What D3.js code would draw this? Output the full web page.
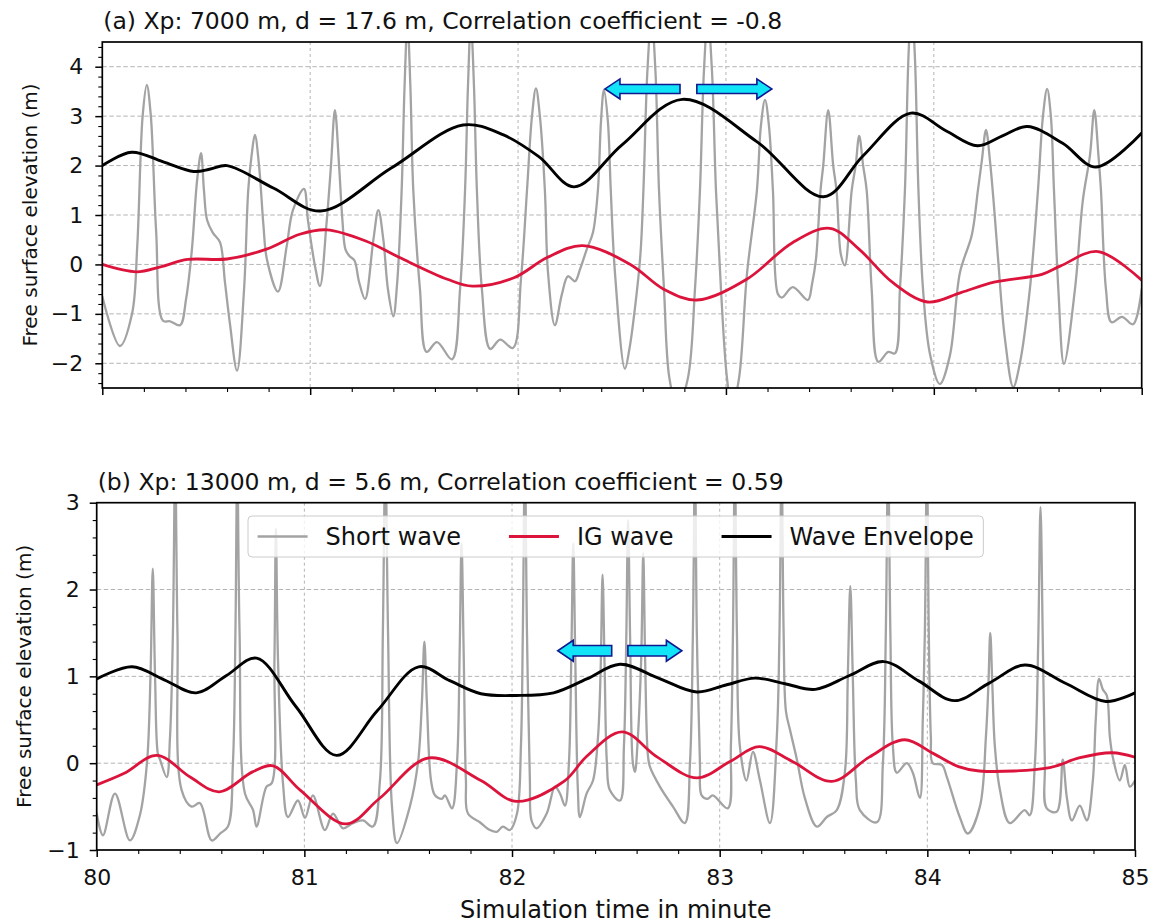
<!DOCTYPE html>
<html>
<head>
<meta charset="utf-8">
<script src="https://cdn.jsdelivr.net/npm/d3@7"></script>
<style>
  body { margin: 0; background: #ffffff; }
  svg { display: block; }
  text { font-family: "DejaVu Sans", sans-serif; fill: #111111; }
</style>
</head>
<body>
<svg id="chart" width="1164" height="923"></svg>
<script>
// ---- axes ----
const timeDomain = [80, 85];
const timeTicks = [80, 81, 82, 83, 84, 85];
const yTicksA = [-2, -1, 0, 1, 2, 3, 4];
const yTicksB = [-1, 0, 1, 2, 3];

const titleA = "(a) Xp: 7000 m, d = 17.6 m, Correlation coefficient = -0.8";
const titleB = "(b) Xp: 13000 m, d = 5.6 m, Correlation coefficient = 0.59";
const xLabel = "Simulation time in minute";
const yLabel = "Free surface elevation (m)";

const seriesNames = ["Short wave", "IG wave", "Wave Envelope"];
const seriesColors = ["#a3a3a3", "#dc143c", "#000000"];

// ---- panel (a): [time (min), elevation (m)] ----
const shortWaveA = [
  [80.000,-0.65],[80.085,-1.65],[80.143,-1.00],[80.168,0.36],[80.194,3.00],[80.214,3.63],[80.233,3.03],[80.259,0.67],
  [80.292,-1.14],[80.326,-1.15],[80.374,-1.23],[80.403,-0.70],[80.431,0.30],[80.456,1.70],[80.475,2.25],[80.489,1.50],
  [80.504,0.90],[80.532,0.64],[80.566,0.45],[80.590,-0.36],[80.614,-1.20],[80.648,-2.15],[80.682,-0.50],[80.702,1.50],
  [80.718,2.20],[80.734,2.62],[80.754,2.00],[80.775,0.80],[80.792,0.10],[80.845,-0.55],[80.887,0.37],[80.917,1.10],
  [80.970,1.53],[80.989,0.90],[81.023,-0.03],[81.047,-0.44],[81.079,0.85],[81.100,2.00],[81.119,3.12],[81.139,2.00],
  [81.155,0.90],[81.170,0.30],[81.189,0.17],[81.213,0.08],[81.235,-0.35],[81.264,-0.70],[81.304,0.50],[81.328,1.10],
  [81.352,0.50],[81.374,-0.50],[81.400,-1.05],[81.418,-0.40],[81.440,1.50],[81.454,3.60],[81.468,4.90],[81.482,3.60],
  [81.496,1.50],[81.528,-0.50],[81.560,-1.77],[81.610,-1.57],[81.682,-1.92],[81.721,-0.50],[81.745,1.50],[81.759,3.60],
  [81.773,4.90],[81.788,3.60],[81.802,1.50],[81.826,-0.50],[81.866,-1.71],[81.914,-1.52],[81.975,-1.69],[82.014,-0.30],
  [82.043,1.50],[82.067,3.00],[82.086,3.56],[82.105,3.00],[82.129,1.50],[82.144,-0.16],[82.177,-1.23],[82.211,-0.60],
  [82.240,-0.24],[82.274,-0.34],[82.298,-0.10],[82.330,0.30],[82.360,0.64],[82.384,1.50],[82.399,2.90],[82.413,3.53],
  [82.432,2.90],[82.446,1.50],[82.466,-0.16],[82.514,-2.11],[82.536,-1.70],[82.554,-1.17],[82.588,0.17],[82.603,1.50],
  [82.622,3.90],[82.642,5.00],[82.661,3.90],[82.678,1.50],[82.702,-0.50],[82.728,-2.30],[82.767,-2.90],[82.817,-2.30],
  [82.851,-0.50],[82.875,1.50],[82.894,3.90],[82.913,5.00],[82.933,3.90],[82.952,1.50],[82.976,-0.50],[83.005,-2.30],
  [83.029,-2.90],[83.063,-2.30],[83.101,-0.20],[83.149,1.50],[83.168,2.80],[83.188,3.33],[83.207,2.80],[83.226,1.50],
  [83.250,-0.60],[83.269,-0.67],[83.322,-0.46],[83.394,-0.72],[83.414,-0.40],[83.433,0.10],[83.455,1.50],[83.468,2.00],
  [83.492,3.12],[83.516,2.00],[83.532,1.50],[83.553,0.20],[83.572,-0.02],[83.605,1.50],[83.624,2.00],[83.641,2.60],
  [83.660,2.00],[83.677,1.50],[83.701,-0.50],[83.733,-1.97],[83.781,-1.77],[83.813,-1.80],[83.837,-0.50],[83.861,1.50],
  [83.878,4.20],[83.893,5.30],[83.909,4.20],[83.926,1.50],[83.948,-0.50],[83.981,-1.80],[84.029,-2.42],[84.077,-1.85],
  [84.126,-0.16],[84.183,0.60],[84.212,1.50],[84.231,2.10],[84.251,2.72],[84.270,2.10],[84.289,1.20],[84.308,0.17],
  [84.342,-1.50],[84.382,-2.48],[84.414,-2.00],[84.462,-0.50],[84.501,1.50],[84.525,3.00],[84.545,3.55],[84.563,3.00],
  [84.578,1.50],[84.599,-0.50],[84.626,-2.01],[84.679,-0.50],[84.717,1.30],[84.751,2.20],[84.772,3.12],[84.792,2.20],
  [84.804,1.50],[84.828,-0.50],[84.855,-1.17],[84.905,-1.06],[84.958,-1.21],[85.000,-0.50]
];
const igWaveA = [
  [80.00,0.00],[80.165,-0.15],[80.28,-0.05],[80.41,0.10],[80.60,0.11],[80.79,0.31],[80.95,0.61],[81.08,0.70],
  [81.27,0.47],[81.43,0.14],[81.66,-0.30],[81.78,-0.44],[81.98,-0.27],[82.14,0.14],[82.31,0.38],[82.54,0.00],
  [82.70,-0.50],[82.86,-0.72],[83.10,-0.30],[83.32,0.44],[83.50,0.73],[83.64,0.31],[83.80,-0.36],[83.97,-0.76],
  [84.13,-0.57],[84.29,-0.36],[84.52,-0.20],[84.61,-0.03],[84.79,0.26],[85.00,-0.32]
];
const envelopeA = [
  [80.00,2.00],[80.14,2.27],[80.29,2.08],[80.44,1.88],[80.52,1.93],[80.60,2.00],[80.825,1.54],[81.05,1.08],
  [81.39,1.95],[81.735,2.82],[81.93,2.62],[82.10,2.18],[82.27,1.57],[82.50,2.42],[82.79,3.34],[83.15,2.48],
  [83.47,1.37],[83.66,2.20],[83.89,3.06],[84.06,2.70],[84.21,2.40],[84.33,2.60],[84.45,2.79],[84.62,2.45],
  [84.78,1.97],[85.00,2.66]
];

// ---- panel (b): [time (min), elevation (m)] ----
const shortWaveB = [
  [80.000,-0.58],[80.030,-0.83],[80.088,-0.35],[80.160,-0.89],[80.208,-0.60],[80.242,0.00],[80.259,1.00],[80.270,2.24],
  [80.281,1.00],[80.295,0.10],[80.305,0.04],[80.337,-0.16],[80.353,0.30],[80.367,1.50],[80.378,3.50],[80.389,1.50],
  [80.409,-0.31],[80.457,-0.50],[80.497,-0.46],[80.554,-0.89],[80.594,-0.81],[80.632,-0.73],[80.656,0.00],[80.668,1.50],
  [80.677,3.50],[80.688,1.50],[80.714,-0.35],[80.753,-0.54],[80.770,-0.73],[80.818,-0.27],[80.843,-0.23],[80.856,1.20],
  [80.863,2.70],[80.873,1.20],[80.897,-0.23],[80.921,-0.62],[80.969,-0.43],[81.003,-0.63],[81.041,-0.37],[81.099,-0.77],
  [81.138,-0.58],[81.186,-0.75],[81.234,-0.69],[81.282,-0.66],[81.330,-0.73],[81.364,-0.20],[81.378,1.50],[81.390,3.50],
  [81.403,1.50],[81.422,-0.50],[81.446,-0.92],[81.508,-0.50],[81.547,0.00],[81.566,0.70],[81.578,1.40],[81.590,0.70],
  [81.610,-0.20],[81.629,-0.37],[81.662,-0.41],[81.677,-0.37],[81.711,-0.52],[81.735,0.00],[81.748,1.30],[81.757,2.53],
  [81.767,1.30],[81.778,-0.20],[81.788,-0.58],[81.845,-0.68],[81.894,-0.77],[81.927,-0.79],[81.956,-0.73],[81.990,-0.77],
  [82.024,-0.58],[82.043,0.20],[82.052,1.50],[82.062,3.50],[82.072,1.50],[82.086,-0.20],[82.094,-0.66],[82.118,-0.75],
  [82.167,-0.58],[82.207,-0.27],[82.231,-0.35],[82.255,-0.49],[82.274,0.00],[82.286,1.30],[82.295,2.53],[82.304,1.30],
  [82.317,-0.30],[82.327,-0.62],[82.359,-0.35],[82.390,-0.20],[82.414,0.30],[82.427,1.10],[82.436,2.17],[82.446,1.10],
  [82.457,0.00],[82.471,-0.31],[82.520,-0.43],[82.539,0.20],[82.550,1.40],[82.559,2.80],[82.569,1.40],[82.582,0.00],
  [82.592,-0.10],[82.606,0.30],[82.622,1.20],[82.632,2.42],[82.641,1.20],[82.654,0.10],[82.664,-0.04],[82.712,-0.27],
  [82.775,-0.50],[82.832,-0.69],[82.857,0.00],[82.871,1.50],[82.881,3.50],[82.890,1.50],[82.905,0.00],[82.913,-0.37],
  [82.943,-0.41],[82.967,-0.37],[83.039,-0.52],[83.054,0.20],[83.064,1.50],[83.073,3.50],[83.083,1.50],[83.097,0.20],
  [83.129,-0.20],[83.160,0.13],[83.194,-0.20],[83.242,-0.69],[83.275,0.30],[83.288,1.50],[83.298,3.50],[83.308,1.50],
  [83.319,0.60],[83.338,0.39],[83.372,0.04],[83.410,-0.40],[83.468,-0.73],[83.516,-0.62],[83.564,-0.54],[83.603,-0.10],
  [83.617,1.00],[83.629,2.04],[83.641,1.00],[83.656,-0.20],[83.675,-0.54],[83.757,-0.68],[83.786,0.00],[83.800,1.50],
  [83.811,3.50],[83.822,1.50],[83.834,0.20],[83.853,-0.11],[83.901,0.00],[83.930,-0.11],[83.964,-0.40],[83.978,0.50],
  [83.988,1.50],[83.998,3.50],[84.007,1.50],[84.017,0.30],[84.026,0.00],[84.070,-0.02],[84.094,-0.16],[84.156,-0.62],
  [84.195,-0.81],[84.253,-0.50],[84.282,0.30],[84.294,0.90],[84.303,1.50],[84.313,0.90],[84.325,0.20],[84.349,-0.30],
  [84.397,-0.69],[84.469,-0.54],[84.493,-0.60],[84.518,0.00],[84.534,1.40],[84.545,2.95],[84.556,1.40],[84.566,0.00],
  [84.575,-0.52],[84.623,-0.56],[84.652,0.04],[84.672,-0.40],[84.696,-0.66],[84.734,-0.49],[84.768,-0.66],[84.797,-0.20],
  [84.811,0.50],[84.827,0.97],[84.845,0.85],[84.864,0.78],[84.879,0.30],[84.893,0.07],[84.927,-0.20],[84.951,-0.02],
  [84.975,-0.27],[85.000,-0.20]
];
const igWaveB = [
  [80.00,-0.25],[80.13,-0.12],[80.29,0.09],[80.45,-0.16],[80.59,-0.33],[80.75,-0.10],[80.85,-0.03],[80.98,-0.31],
  [81.20,-0.70],[81.36,-0.41],[81.60,0.06],[81.85,-0.20],[82.02,-0.44],[82.25,-0.21],[82.36,0.08],[82.53,0.36],
  [82.70,0.07],[82.89,-0.17],[83.05,0.02],[83.19,0.19],[83.35,0.02],[83.54,-0.21],[83.72,0.07],[83.89,0.27],
  [84.03,0.11],[84.15,-0.04],[84.25,-0.09],[84.59,-0.05],[84.73,0.06],[84.89,0.12],[85.00,0.07]
];
const envelopeB = [
  [80.00,0.97],[80.17,1.11],[80.325,0.96],[80.48,0.81],[80.625,1.01],[80.77,1.21],[80.96,0.65],[81.155,0.09],
  [81.35,0.60],[81.55,1.11],[81.70,0.95],[81.85,0.80],[82.02,0.78],[82.20,0.81],[82.36,0.97],[82.52,1.14],
  [82.705,0.98],[82.89,0.82],[83.03,0.90],[83.17,0.98],[83.315,0.915],[83.46,0.85],[83.625,1.01],[83.79,1.17],
  [83.96,0.945],[84.13,0.72],[84.30,0.925],[84.47,1.13],[84.665,0.92],[84.86,0.71],[85.00,0.81]
];

// ---- direction arrows: tail time, tip time, elevation ----
const arrowsA = [[82.779, 82.418, 3.55], [82.860, 83.221, 3.55]];
const arrowsB = [[82.480, 82.220, 1.295], [82.558, 82.818, 1.295]];

const svg = d3.select("#chart");

const panels = [
  { title: titleA, box: { l: 102.3, r: 1141.7, t: 42, b: 388 }, yDomain: [-2.5, 4.5], yTicks: yTicksA,
    series: [shortWaveA, igWaveA, envelopeA], arrows: arrowsA, arrowSize: [15, 20, 9],
    titleY: 28.5, yLabelX: 36.5, tickLabels: false, legend: false },
  { title: titleB, box: { l: 96.7, r: 1135, t: 502.7, b: 850 }, yDomain: [-1, 3], yTicks: yTicksB,
    series: [shortWaveB, igWaveB, envelopeB], arrows: arrowsB, arrowSize: [15.5, 21, 10.5],
    titleY: 489.5, yLabelX: 30.5, tickLabels: true, legend: true }
];

const lineWidths = [2.3, 2.8, 2.9];

function minorValues(lo, hi) {
  return d3.range(Math.ceil(lo * 5 - 1e-9), Math.floor(hi * 5 + 1e-9) + 1)
    .map(k => k / 5)
    .filter(v => Math.abs(v - Math.round(v)) > 1e-6);
}

function arrowPath(x0, x1, yc, hl, hw, sw) {
  const dir = Math.sign(x1 - x0);
  const xn = x1 - dir * hl;
  return `M${x0},${yc - sw / 2}L${xn},${yc - sw / 2}L${xn},${yc - hw / 2}L${x1},${yc}` +
         `L${xn},${yc + hw / 2}L${xn},${yc + sw / 2}L${x0},${yc + sw / 2}Z`;
}

function styleAxis(sel, fontSize) {
  sel.select(".domain").remove();
  sel.selectAll(".tick line").attr("stroke", "#000").attr("stroke-width", 1.5);
  sel.selectAll(".tick text").attr("font-size", fontSize).attr("font-family", "DejaVu Sans, sans-serif").attr("fill", "#111");
}

panels.forEach((p, i) => {
  const { l, r, t, b } = p.box;
  const x = d3.scaleLinear().domain(timeDomain).range([l, r]);
  const y = d3.scaleLinear().domain(p.yDomain).range([b, t]);
  const g = svg.append("g");

  const clipId = "plot-clip-" + i;
  svg.append("clipPath").attr("id", clipId)
    .append("rect").attr("x", l).attr("y", t).attr("width", r - l).attr("height", b - t);

  // grid
  g.append("g").selectAll("line")
    .data(p.yTicks.filter(v => v > p.yDomain[0] && v < p.yDomain[1]))
    .join("line")
    .attr("x1", l).attr("x2", r).attr("y1", d => y(d)).attr("y2", d => y(d))
    .attr("stroke", "#b4b4b4").attr("stroke-width", 1).attr("stroke-dasharray", "4.5,2.5");
  g.append("g").selectAll("line")
    .data(timeTicks.filter(v => v > timeDomain[0] && v < timeDomain[1]))
    .join("line")
    .attr("x1", d => x(d)).attr("x2", d => x(d)).attr("y1", t).attr("y2", b)
    .attr("stroke", "#b4b4b4").attr("stroke-width", 1).attr("stroke-dasharray", "3,3");

  // series: short wave, IG wave, envelope
  const line = d3.line().x(d => x(d[0])).y(d => y(d[1])).curve(d3.curveCatmullRom.alpha(0.5));
  p.series.forEach((s, k) => {
    g.append("path")
      .attr("clip-path", `url(#${clipId})`)
      .attr("d", line(s))
      .attr("fill", "none")
      .attr("stroke", seriesColors[k])
      .attr("stroke-width", lineWidths[k])
      .attr("stroke-linejoin", "round")
      .attr("stroke-linecap", "round");
  });

  // propagation arrows
  const [hl, hw, sw] = p.arrowSize;
  g.append("g").selectAll("path").data(p.arrows).join("path")
    .attr("d", d => arrowPath(x(d[0]), x(d[1]), y(d[2]), hl, hw, sw))
    .attr("fill", "#10e4f6").attr("stroke", "#101890").attr("stroke-width", 1.6)
    .attr("stroke-linejoin", "miter");

  // legend
  if (p.legend) {
    const fs = 24, pad = 9.6, handle = 50, textPad = 18, colSpace = 48;
    const lg = g.append("g");
    const box = lg.append("rect");
    const x0 = l + 151.3, y0 = t + 13.3, h = 41;
    let cx = x0 + pad;
    seriesNames.forEach((name, k) => {
      lg.append("line").attr("x1", cx).attr("x2", cx + handle)
        .attr("y1", y0 + h / 2).attr("y2", y0 + h / 2)
        .attr("stroke", seriesColors[k]).attr("stroke-width", lineWidths[k]);
      const tx = lg.append("text").attr("x", cx + handle + textPad).attr("y", y0 + h / 2)
        .attr("dy", "0.36em").attr("font-size", fs).text(name);
      cx = cx + handle + textPad + tx.node().getComputedTextLength() + colSpace;
    });
    const w = cx - colSpace + pad - x0;
    box.attr("x", x0).attr("y", y0).attr("width", w).attr("height", h)
      .attr("rx", 4).attr("fill", "#ffffff").attr("fill-opacity", 0.8)
      .attr("stroke", "#cccccc").attr("stroke-width", 1);
  }

  // frame
  g.append("rect").attr("x", l).attr("y", t).attr("width", r - l).attr("height", b - t)
    .attr("fill", "none").attr("stroke", "#000").attr("stroke-width", 1.7);

  // x axis (major + minor)
  const xAxis = d3.axisBottom(x).tickValues(timeTicks).tickSize(7).tickPadding(12)
    .tickFormat(p.tickLabels ? d3.format("d") : () => "");
  g.append("g").attr("transform", `translate(0,${b})`).call(xAxis).call(s => styleAxis(s, 22));
  g.append("g").attr("transform", `translate(0,${b})`)
    .call(d3.axisBottom(x).tickValues(minorValues(80, 85)).tickSize(4).tickFormat(() => ""))
    .call(s => { s.select(".domain").remove(); s.selectAll(".tick line").attr("stroke", "#000").attr("stroke-width", 1.1); });

  // y axis (major + minor)
  const yAxis = d3.axisLeft(y).tickValues(p.yTicks).tickSize(7).tickPadding(i === 0 ? 12 : 10)
    .tickFormat(d3.format("d"));
  g.append("g").attr("transform", `translate(${l},0)`).call(yAxis).call(s => styleAxis(s, 22));
  g.append("g").attr("transform", `translate(${l},0)`)
    .call(d3.axisLeft(y).tickValues(minorValues(p.yDomain[0], p.yDomain[1])).tickSize(4).tickFormat(() => ""))
    .call(s => { s.select(".domain").remove(); s.selectAll(".tick line").attr("stroke", "#000").attr("stroke-width", 1.1); });

  // titles and labels
  g.append("text").attr("x", l + 1).attr("y", p.titleY).attr("font-size", 23.5).text(p.title);
  g.append("text")
    .attr("transform", `translate(${p.yLabelX},${(t + b) / 2}) rotate(-90)`)
    .attr("text-anchor", "middle").attr("font-size", 20).text(yLabel);
  if (p.tickLabels) {
    g.append("text").attr("x", (l + r) / 2).attr("y", 918)
      .attr("text-anchor", "middle").attr("font-size", 24).text(xLabel);
  }
});
</script>
</body>
</html>
